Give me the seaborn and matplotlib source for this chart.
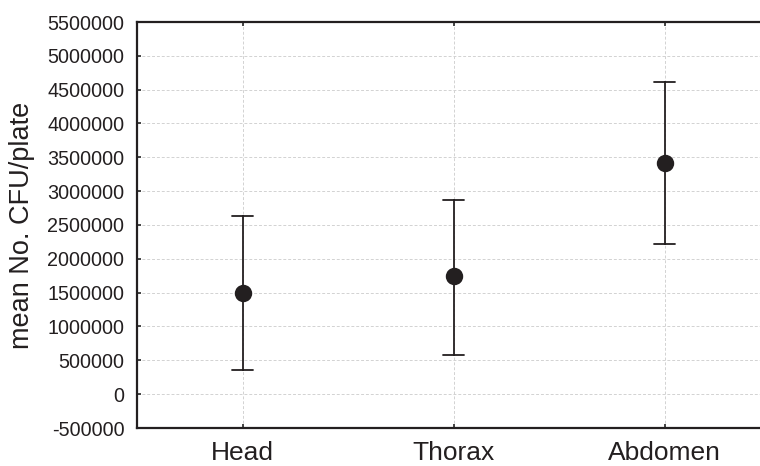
import matplotlib
matplotlib.use("Agg")
import matplotlib.pyplot as plt
import seaborn as sns
import pandas as pd
import numpy as np

# Data: mean and lower/upper error limits
categories = ["Head", "Thorax", "Abdomen"]
means = [1490000, 1745000, 3412000]
lower = [350000, 580000, 2220000]
upper = [2628000, 2868000, 4608000]
yticks = list(range(-500000, 5500001, 500000))

rows = []
for c, lo, m, hi in zip(categories, lower, means, upper):
    for v in (lo, m, hi):
        rows.append({"part": c, "cfu": v})
df = pd.DataFrame(rows)

sns.set_style("white")
plt.rcParams["font.family"] = ["Liberation Sans", "DejaVu Sans"]

fig = plt.figure(figsize=(7.6, 4.66), dpi=100)
ax = fig.add_axes([137 / 760, 38 / 466, 633 / 760, 406 / 466])

sns.pointplot(data=df, x="part", y="cfu", order=categories,
              estimator="median", errorbar=("pi", 100),
              linestyle="none", color="#231f20", markers="o",
              markersize=10.5, capsize=0.1, err_kws={"linewidth": 1.3},
              ax=ax)

ax.set_ylim(-500000, 5500000)
ax.set_xlim(-0.5, 2.5)
ax.set_yticks(yticks)
ax.set_yticklabels([str(t) for t in yticks], fontsize=14.2, color="#231f20")
ax.tick_params(axis="x", labelsize=19, labelcolor="#231f20", direction="in",
               length=3, width=1.2, top=True, bottom=True, pad=9)
ax.tick_params(axis="y", direction="in", length=3, width=1.2, left=True, pad=9)
ax.set_xlabel("")
ax.set_ylabel("mean No. CFU/plate", fontsize=19.5, labelpad=9, color="#231f20")

ax.grid(True, color="#d2d2d2", linestyle=(0, (3, 2)), linewidth=0.7)
ax.set_axisbelow(True)
for side in ["left", "bottom", "top", "right"]:
    ax.spines[side].set_visible(True)
    ax.spines[side].set_color("#231f20")
    ax.spines[side].set_linewidth(1.6)

fig.savefig("out.png", dpi=100)
